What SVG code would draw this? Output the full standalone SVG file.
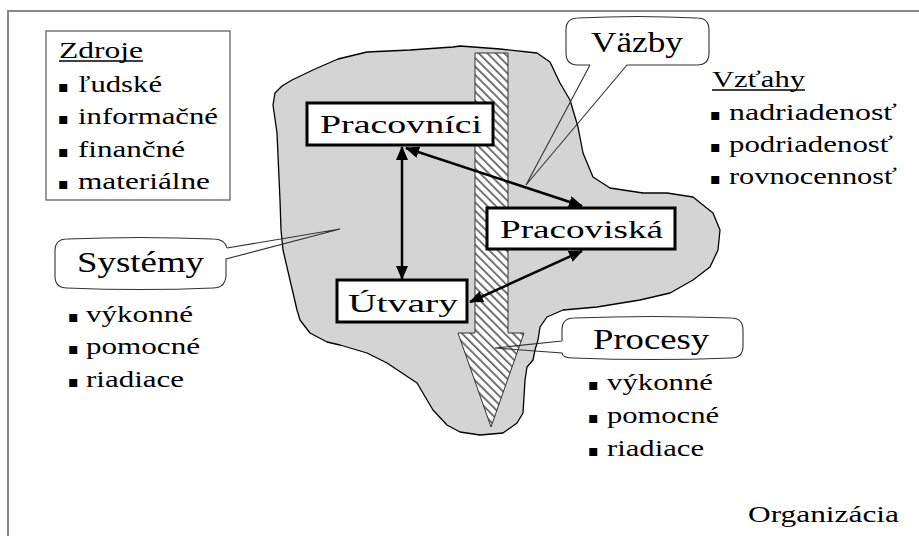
<svg xmlns="http://www.w3.org/2000/svg" width="919" height="536" viewBox="0 0 919 536">
<style>
  text { font-family: "Liberation Serif", "Times New Roman", serif; fill: #000; }
  .t24 { font-size: 24px; }
  .t30 { font-size: 30px; }
  .t26 { font-size: 26px; }
  text.bul { font-family: "DejaVu Sans", sans-serif; font-size: 16px; }
  .node rect { fill: #fff; stroke: #000; stroke-width: 3; }
  .callfill { fill: #fff; stroke: none; }
  .callline { fill: none; stroke: #333; stroke-width: 1.1; }
  .conn { stroke: #000; stroke-width: 2.5; fill: none; marker-start: url(#ah); marker-end: url(#ah); }
  .ul { stroke: #000; stroke-width: 1.3; }
</style>
<defs>
  <pattern id="hatch" width="6" height="6" patternUnits="userSpaceOnUse" patternTransform="rotate(-45)">
    <rect width="6" height="6" fill="#fff"/>
    <rect x="0" y="0" width="1.8" height="6" fill="#666"/>
  </pattern>
  <marker id="ah" viewBox="0 0 14 12" refX="13" refY="6" markerWidth="14" markerHeight="12" markerUnits="userSpaceOnUse" orient="auto-start-reverse">
    <path d="M0,0 L14,6 L0,12 Z" fill="#000"/>
  </marker>
</defs>

<!-- outer frame -->
<path d="M8,536 V11 H919" fill="none" stroke="#888" stroke-width="2"/>

<!-- organisation blob -->
<g id="blob">
  <path d="M275,93 L282,86 L292,80 L315,69 L338,59 L367,52 L410,50 L453,47 L460,46 L500,49 L537,53 L550,62 L560,83 L570,100 L578,127 L583,153 L593,177 L610,188 L643,193 L667,193 L693,197 L713,213 L720,230 L718,250 L710,267 L693,280 L670,293 L640,300 L597,307 L563,310 L547,317 L540,327 L538,340 L535,350 L533,360 L527,367 L525,380 L523,413 L517,423 L503,433 L480,435 L460,432 L447,425 L433,410 L417,383 L387,363 L367,353 L340,345 L327,342 L310,333 L300,320 L297,310 L290,280 L283,250 L281,230 L280,200 L277,133 L273,105 Z" fill="#d4d4d4" stroke="#000" stroke-width="1.3" stroke-linejoin="round"/>
</g>

<!-- hatched process arrow -->
<g id="flow-arrow">
  <path d="M475,53 H508 V333 H524 L491,427 L458,333 H475 Z" fill="url(#hatch)" stroke="#333" stroke-width="1"/>
</g>

<!-- Zdroje box -->
<g id="zdroje">
  <rect x="46" y="31" width="184" height="169" fill="#fff" stroke="#555" stroke-width="1.2"/>
  <text class="t24" x="59" y="58" textLength="84" lengthAdjust="spacingAndGlyphs">Zdroje</text>
  <line class="ul" x1="59" y1="61" x2="143" y2="61"/>
  <text class="bul" x="58" y="92">▪</text>
  <text class="t24" x="78" y="92" textLength="84" lengthAdjust="spacingAndGlyphs">ľudské</text>
  <text class="bul" x="58" y="124">▪</text>
  <text class="t24" x="78" y="124" textLength="140" lengthAdjust="spacingAndGlyphs">informačné</text>
  <text class="bul" x="58" y="157">▪</text>
  <text class="t24" x="78" y="157" textLength="107" lengthAdjust="spacingAndGlyphs">finančné</text>
  <text class="bul" x="58" y="189">▪</text>
  <text class="t24" x="78" y="189" textLength="132" lengthAdjust="spacingAndGlyphs">materiálne</text>
</g>

<!-- Vztahy list -->
<g id="vztahy">
  <text class="t24" x="712" y="87" textLength="93" lengthAdjust="spacingAndGlyphs">Vzťahy</text>
  <line class="ul" x1="712" y1="90" x2="805" y2="90"/>
  <text class="bul" x="710" y="120">▪</text>
  <text class="t24" x="729" y="120" textLength="168" lengthAdjust="spacingAndGlyphs">nadriadenosť</text>
  <text class="bul" x="710" y="152">▪</text>
  <text class="t24" x="729" y="152" textLength="164" lengthAdjust="spacingAndGlyphs">podriadenosť</text>
  <text class="bul" x="710" y="184">▪</text>
  <text class="t24" x="729" y="184" textLength="168" lengthAdjust="spacingAndGlyphs">rovnocennosť</text>
</g>

<!-- Vazby callout -->
<g id="vazby">
  <path class="callfill" d="M578,18 H697 Q709,18 709,30 V53 Q709,65 697,65 H578 Q566,65 566,53 V30 Q566,18 578,18 Z"/>
  <path class="callline" d="M590,65 H578 Q566,65 566,53 V30 Q566,18 578,18 Q637,15 697,18 Q709,18 709,30 V53 Q709,65 697,65 H627 L526,185 L590,65"/>
  <text class="t30" x="591" y="52" textLength="92" lengthAdjust="spacingAndGlyphs">Väzby</text>
</g>

<!-- Systemy callout -->
<g id="systemy">
  <path class="callfill" d="M67,239 H215 Q227,239 227,251 V276 Q227,288 215,288 H67 Q55,288 55,276 V251 Q55,239 67,239 Z"/>
  <path class="callline" d="M227,248 Q225,239 213,239 Q141,236 67,239 Q55,239 55,251 V276 Q55,288 67,288 Q141,291 213,288 Q225,288 226,276 V259 L340,229 L227,248"/>
  <text class="t30" x="77" y="272" textLength="127" lengthAdjust="spacingAndGlyphs">Systémy</text>
  <text class="bul" x="68" y="322">▪</text>
  <text class="t24" x="86" y="322" textLength="107" lengthAdjust="spacingAndGlyphs">výkonné</text>
  <text class="bul" x="68" y="354">▪</text>
  <text class="t24" x="86" y="354" textLength="114" lengthAdjust="spacingAndGlyphs">pomocné</text>
  <text class="bul" x="68" y="387">▪</text>
  <text class="t24" x="86" y="387" textLength="98" lengthAdjust="spacingAndGlyphs">riadiace</text>
</g>

<!-- Procesy callout -->
<g id="procesy">
  <path class="callfill" d="M574,318 H731 Q743,318 743,330 V346 Q743,358 731,358 H574 Q562,358 562,346 V330 Q562,318 574,318 Z"/>
  <path class="callline" d="M562,341 V330 Q562,318 574,318 Q652,315 731,318 Q743,318 743,330 V346 Q743,358 731,358 Q652,361 574,358 Q562,358 562,353 L495,348 L562,341"/>
  <text class="t30" x="593" y="349" textLength="116" lengthAdjust="spacingAndGlyphs">Procesy</text>
  <text class="bul" x="588" y="390">▪</text>
  <text class="t24" x="607" y="390" textLength="106" lengthAdjust="spacingAndGlyphs">výkonné</text>
  <text class="bul" x="588" y="423">▪</text>
  <text class="t24" x="607" y="423" textLength="112" lengthAdjust="spacingAndGlyphs">pomocné</text>
  <text class="bul" x="588" y="456">▪</text>
  <text class="t24" x="607" y="456" textLength="97" lengthAdjust="spacingAndGlyphs">riadiace</text>
</g>

<!-- nodes -->
<g id="pracovnici" class="node">
  <rect x="307" y="103" width="186" height="42"/>
  <text class="t26" x="320" y="133" textLength="162" lengthAdjust="spacingAndGlyphs">Pracovníci</text>
</g>
<g id="pracoviska" class="node">
  <rect x="487" y="208" width="188" height="41"/>
  <text class="t26" x="500" y="238" textLength="163" lengthAdjust="spacingAndGlyphs">Pracoviská</text>
</g>
<g id="utvary" class="node">
  <rect x="337" y="280" width="130" height="42"/>
  <text class="t26" x="348" y="312" textLength="110" lengthAdjust="spacingAndGlyphs">Útvary</text>
</g>

<!-- connectors -->
<g id="connectors">
  <line class="conn" x1="402" y1="147" x2="402" y2="279"/>
  <line class="conn" x1="406" y1="148" x2="582" y2="206"/>
  <line class="conn" x1="470" y1="302" x2="582" y2="251"/>
</g>

<text class="t24" x="748" y="522" textLength="151" lengthAdjust="spacingAndGlyphs">Organizácia</text>
</svg>
